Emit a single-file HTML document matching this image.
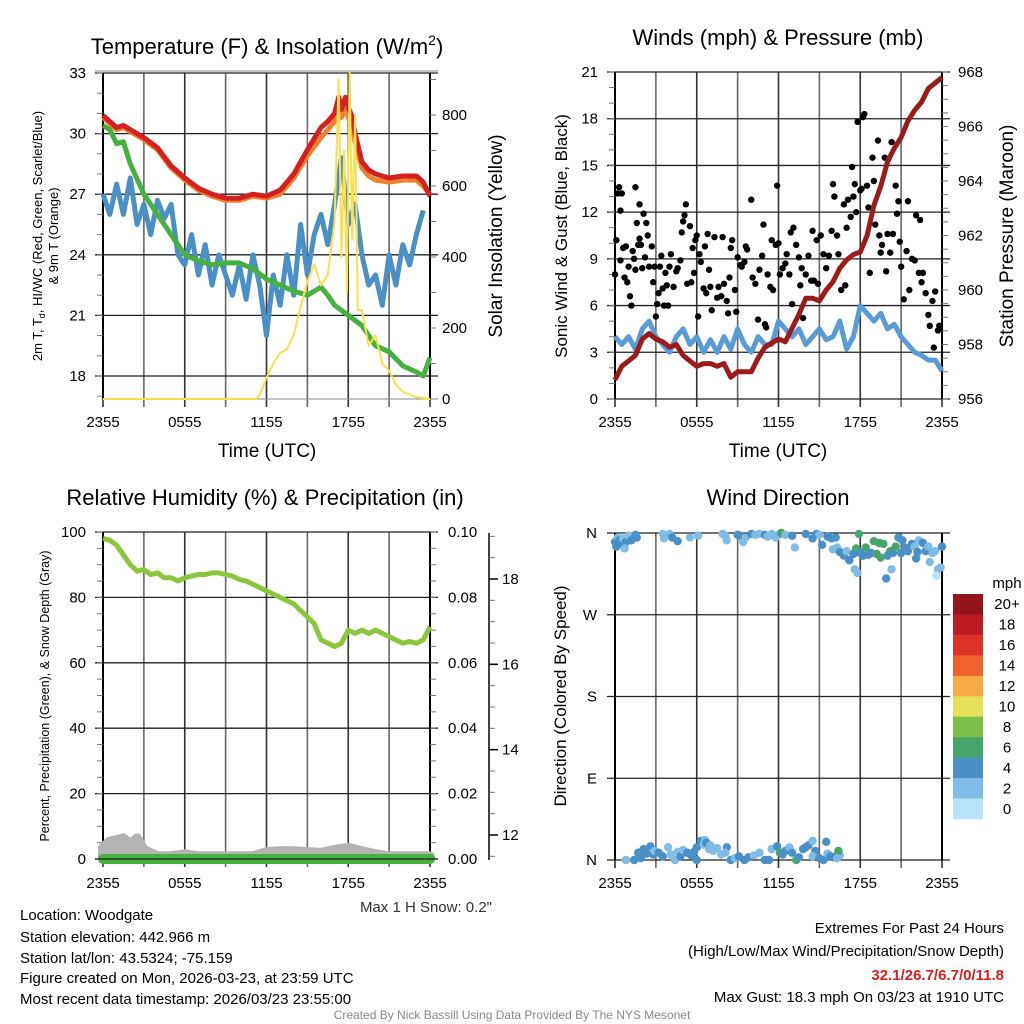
<!DOCTYPE html>
<html><head><meta charset="utf-8">
<style>
html,body{margin:0;padding:0;background:#fff;}
svg{display:block;font-family:"Liberation Sans",sans-serif;}
</style></head>
<body>
<svg id="fig" width="1024" height="1024" viewBox="0 0 1024 1024" xmlns="http://www.w3.org/2000/svg">
<rect x="0" y="0" width="1024" height="1024" fill="#fff"/>
<g id="layer"></g>
<!-- Titles -->
<text x="267" y="54" font-size="22" text-anchor="middle">Temperature (F) &amp; Insolation (W/m<tspan font-size="14" dy="-9">2</tspan><tspan dy="9">)</tspan></text>
<text x="778" y="45" font-size="22" text-anchor="middle">Winds (mph) &amp; Pressure (mb)</text>
<text x="265" y="505" font-size="22" text-anchor="middle">Relative Humidity (%) &amp; Precipitation (in)</text>
<text x="778" y="505" font-size="22" text-anchor="middle">Wind Direction</text>
<!-- Axis titles -->
<text x="267" y="457" font-size="19" text-anchor="middle">Time (UTC)</text>
<text x="778" y="457" font-size="19" text-anchor="middle">Time (UTC)</text>
<g font-size="13" text-anchor="middle">
<text transform="translate(42,236) rotate(-90)">2m T, T<tspan font-size="9" dy="3">d</tspan><tspan dy="-3">, HI/WC (Red, Green, Scarlet/Blue)</tspan></text>
<text transform="translate(58,236) rotate(-90)">&amp; 9m T (Orange)</text>
</g>
<text transform="translate(502,236) rotate(-90)" font-size="19" text-anchor="middle">Solar Insolation (Yellow)</text>
<text transform="translate(567,236) rotate(-90)" font-size="17" text-anchor="middle">Sonic Wind &amp; Gust (Blue, Black)</text>
<text transform="translate(1013,236) rotate(-90)" font-size="19" text-anchor="middle">Station Pressure (Maroon)</text>
<text transform="translate(49,696) rotate(-90)" font-size="12.5" text-anchor="middle">Percent, Precipitation (Green), &amp; Snow Depth (Gray)</text>
<text transform="translate(566,696) rotate(-90)" font-size="17" text-anchor="middle">Direction (Colored By Speed)</text>
<text x="492" y="912" font-size="15" fill="#333" text-anchor="end">Max 1 H Snow: 0.2"</text>
<!-- Info block -->
<g font-size="15">
<text x="20" y="920">Location: Woodgate</text>
<text x="20" y="942">Station elevation: 442.966 m</text>
<text x="20" y="963">Station lat/lon: 43.5324; -75.159</text>
<text x="20" y="983">Figure created on Mon, 2026-03-23, at 23:59 UTC</text>
<text x="20" y="1004">Most recent data timestamp: 2026/03/23 23:55:00</text>
</g>
<g font-size="15" text-anchor="end">
<text x="1004" y="933">Extremes For Past 24 Hours</text>
<text x="1004" y="956">(High/Low/Max Wind/Precipitation/Snow Depth)</text>
<text x="1004" y="980" fill="#d42020" font-weight="bold">32.1/26.7/6.7/0/11.8</text>
<text x="1004" y="1002">Max Gust: 18.3 mph On 03/23 at 1910 UTC</text>
</g>
<text x="512" y="1019" font-size="12" fill="#888" text-anchor="middle">Created By Nick Bassill Using Data Provided By The NYS Mesonet</text>
</svg>
<script>
// ---------- DATA ----------
var timeTicks = ["2355","0555","1155","1755","2355"];
var tempTicks = [18,21,24,27,30,33];
var solarTicks = [0,200,400,600,800];
var windTicks = [0,3,6,9,12,15,18,21];
var presTicks = [956,958,960,962,964,966,968];
var rhTicks = [0,20,40,60,80,100];
var precipTicks = ["0.00","0.02","0.04","0.06","0.08","0.10"];
var snowTicks = [12,14,16,18];
var dirLabels = ["N","E","S","W","N"];
var cbLabels = ["20+","18","16","14","12","10","8","6","4","2","0"];
var cbColors = ["#931419","#bd1c25","#dc3228","#f0622c","#f7aa45","#e6e05a","#7cc04a","#47a56c","#4a8fc6","#80bce6","#b8e3f8"];

var tempT = [0,0.5,1,1.5,2,3,4,5,6,7,8,9,10,11,12,13,14,15,16,16.5,17,17.3,17.5,17.8,18,18.3,18.5,19,19.5,20,21,22,23,23.5,24];
var tempRed = [30.9,30.6,30.3,30.4,30.2,29.8,29.3,28.4,27.8,27.3,27.0,26.8,26.8,27.0,26.9,27.2,28.0,29.2,30.3,30.6,31.0,31.8,31.2,31.8,31.3,30.8,30.0,28.6,28.2,28.0,27.8,27.9,27.9,27.6,26.9];
var tempOrange = [30.8,30.5,30.2,30.3,30.1,29.7,29.2,28.3,27.7,27.2,26.9,26.7,26.7,26.9,26.8,27.0,27.8,28.9,29.8,30.2,30.6,31.2,30.8,31.2,30.8,30.3,29.6,28.3,27.9,27.7,27.6,27.7,27.7,27.4,27.0];
var dewT = [0,0.5,1,1.5,2,3,4,5,6,7,8,9,10,11,12,13,14,15,16,16.5,17,18,19,20,21,22,23,23.5,24];
var dewGreen = [30.4,30.2,29.5,29.6,28.5,27.0,26.0,25.0,24.0,23.7,23.5,23.6,23.6,23.3,22.8,22.5,22.2,22.0,22.4,22.0,21.5,21.0,20.5,19.5,19.2,18.5,18.2,18.0,18.9];
var wcT = [0,0.5,1,1.5,2,2.5,3,3.5,4,4.5,5,5.5,6,6.5,7,7.5,8,8.5,9,9.5,10,10.5,11,11.5,12,12.5,13,13.5,14,14.5,15,15.5,16,16.5,17,17.5,18,18.5,19,19.5,20,20.5,21,21.5,22,22.5,23,23.5];
var wcBlue = [27,26,27.5,26,27.8,25.5,26.5,25,26.7,25.8,26.5,24,23.5,25,23,24.5,22.5,24,23,22,23.5,21.8,24,22.5,20,23,21.5,24,22,25.5,23,25,26,24.5,26.5,28.8,25.5,26.5,24,22.5,23,21.5,24,22.5,24.5,23.5,25,26.2];
var solarT = [0,11.3,11.6,12,12.5,13,13.5,14,14.5,15,15.5,16,16.5,17,17.3,17.5,17.7,17.9,18.1,18.3,18.5,18.7,19,19.5,20,20.5,21,21.5,22,23,24];
var solarW = [0,0,20,60,100,130,140,180,260,330,380,320,350,500,900,400,700,300,920,450,800,250,250,150,180,100,80,40,20,5,0];

var windT = [0,0.5,1,1.5,2,2.5,3,3.5,4,4.5,5,5.5,6,6.5,7,7.5,8,8.5,9,9.5,10,10.5,11,11.5,12,12.5,13,13.5,14,14.5,15,15.5,16,16.5,17,17.5,18,18.5,19,19.5,20,20.5,21,21.5,22,22.5,23,23.5,24];
var windSpd = [4,3.5,4,3.2,4.5,5,4,3.5,3,4,4.5,3.5,4,3,3.8,3,4,3.2,4.5,3.5,3,4,3.5,3.5,5,4.5,4,4.5,3.5,4,4.5,3.8,4,5,3.2,4,6,5.5,5,5.5,4.5,4.8,4,3.5,3,2.8,2.5,2.5,1.8];
var presT = [0,0.5,1,1.5,2,2.5,3,3.5,4,4.5,5,5.5,6,6.5,7,7.5,8,8.5,9,10,10.5,11,12,12.5,13,13.5,14,14.5,15,15.5,16,16.5,17,17.5,18,18.5,19,19.5,20,20.5,21,21.5,22,22.5,23,24];
var presMb = [956.7,957.2,957.4,957.6,958.2,958.4,958.2,958.1,957.9,958,957.6,957.4,957.2,957.3,957.3,957.2,957.3,956.8,957,957,957.5,957.9,958.2,958.1,958.6,959.1,959.7,959.7,959.6,960,960.3,960.8,961.1,961.3,961.4,962,963.1,963.8,964.7,965.2,965.6,966.2,966.6,966.9,967.4,967.8];
var gustT = [0,0.1,0.2,0.3,0.4,0.4,0.5,0.6,0.7,0.8,0.9,1.0,1.1,1.2,1.3,1.4,1.5,1.5,1.6,1.7,1.8,1.8,1.9,2.0,2.1,2.2,2.3,2.4,2.5,2.7,2.8,2.9,3.0,3.1,3.2,3.3,3.4,3.5,3.6,3.7,3.8,3.9,4.0,4.1,4.3,4.5,4.6,4.8,4.9,5.0,5.1,5.2,5.3,5.5,5.6,5.7,5.8,5.9,6.0,6.1,6.2,6.3,6.5,6.6,6.7,6.8,6.9,7.0,7.1,7.3,7.5,7.6,7.8,7.9,8.0,8.2,8.3,8.4,8.5,8.6,8.8,8.9,9.0,9.2,9.3,9.5,9.6,9.7,10.0,10.1,10.3,10.5,10.6,10.8,10.9,11.0,11.1,11.2,11.4,11.5,11.6,11.8,11.9,12.0,12.1,12.3,12.5,12.6,12.8,12.9,13.0,13.1,13.3,13.5,13.6,13.7,13.8,14.0,14.2,14.4,14.5,14.6,14.8,14.9,15.1,15.3,15.5,15.7,15.9,16.0,16.1,16.3,16.4,16.6,16.8,16.9,17.0,17.1,17.3,17.4,17.5,17.6,17.7,17.8,18.0,18.1,18.2,18.3,18.5,18.6,18.7,18.9,19.0,19.1,19.3,19.4,19.5,19.6,19.8,19.9,20.0,20.2,20.3,20.4,20.6,20.7,20.8,20.9,21.0,21.2,21.4,21.5,21.6,21.8,22.0,22.1,22.3,22.4,22.5,22.6,22.8,23.0,23.1,23.3,23.4,23.5,23.7,23.8];
var gustMph = [8,10.2,13.2,13.6,12.1,8.9,13.2,9.7,7.8,9.8,7.5,8.5,6.6,6.0,9.5,9.0,8.3,13.6,11.3,9.9,10.3,12.5,9.9,8.4,11.9,9.1,11.3,10.5,8.5,9.8,7.5,8.5,5.3,6.1,6.8,8.5,9.2,7.1,6.0,8.1,7.3,6.0,8.5,9.3,7.2,8.2,8.4,8.9,10.7,11.4,11.8,12.5,7.4,11.1,7.5,9.7,8.1,10.2,10.5,5.3,9.3,8.8,7.1,9.8,6.8,10.6,8.3,7.2,5.7,10.4,6.5,7.2,6.6,10.4,7.4,6.3,5.5,7.8,9.7,10.2,7.0,5.6,9.1,8.6,8.5,8.8,9.8,9.6,12.8,7.8,7.4,5.1,8.3,9.2,11.2,4.8,4.6,8.0,7.2,10.2,7.0,9.9,13.7,10.0,8.0,8.4,8.7,9.3,8.0,10.7,6.1,11.0,9.9,9.1,7.3,8.4,5.2,8.0,9.2,7.6,10.8,7.6,10.2,7.4,10.5,9.3,8.4,9.2,10.8,13.8,13.0,10.5,9.3,7.0,12.5,7.3,11.0,12.8,11.7,14.9,13.0,13.8,12.0,17.8,13.4,13.5,18.1,18.3,13.7,12.3,8.1,15.5,14.0,11.2,16.6,10.5,9.4,9.9,15.5,8.2,10.6,9.4,16.5,10.6,13.7,11.9,12.7,10.1,8.5,6.4,9.5,12.7,7.0,9.0,8.9,11.8,8.1,11.5,7.5,8.1,6.8,5.4,4.7,6.3,3.3,6.9,4.4,4.7];

var rhT = [0,0.5,1,1.5,2,2.5,3,3.5,4,4.5,5,5.5,6,6.5,7,7.5,8,8.5,9,9.5,10,10.5,11,12,13,14,14.5,15,15.5,16,16.5,17,17.5,18,18.5,19,19.5,20,20.5,21,21.5,22,22.5,23,23.5,24];
var rhPct = [98,97.5,96,93,90,88,88.5,87,87.5,86,86,85,86,86.5,87,87,87.5,87.5,87,86.5,85.5,85,84,82,80,78,76,74,72,67,66,65,66,70,69,70,69,70,69,68,67,66,66.5,66,67,71];
var snowT = [0,0.5,1,1.5,2,2.5,3,4,5,6,7,8,9,10,11,12,13,14,15,16,17,18,19,20,21,22,23,24];
var snowIn = [11.7,11.85,11.88,11.92,11.78,11.92,11.65,11.5,11.5,11.55,11.5,11.5,11.5,11.5,11.5,11.6,11.62,11.62,11.6,11.58,11.65,11.7,11.62,11.55,11.5,11.5,11.5,11.5];
var precipIn = [0,0,0,0,0,0,0,0,0,0,0,0,0,0,0,0,0,0,0,0,0,0,0,0,0,0,0,0];

var dirT = [0,0.1,0.2,0.3,0.4,0.6,0.8,1.0,1.2,1.5,1.6,0.7,3.5,4.0,3.6,4.2,4.6,5.5,6.1,7.9,8.1,8.2,9.0,9.2,9.4,9.6,10.0,10.3,10.6,11.0,11.2,11.3,11.5,11.8,12.0,12.2,12.5,13.0,13.2,14.0,14.5,14.8,15.0,15.2,15.6,15.9,16.2,16.0,16.3,16.5,16.8,17.0,17.2,17.5,17.6,17.8,17.9,17.7,18.0,18.2,18.4,18.6,18.8,19.0,19.2,19.4,19.5,19.7,19.9,20.0,20.2,20.4,20.6,20.3,20.8,21.0,21.1,21.3,21.5,21.8,22.0,22.2,22.3,22.6,22.8,23.0,23.1,23.3,23.5,23.7,23.9,23.6,24.0,22.1,
0.8,1.4,1.9,1.7,2.0,2.1,2.3,2.6,2.8,2.9,3.2,3.5,3.9,4.1,4.4,4.6,4.8,5.0,5.3,5.6,5.8,6.0,6.0,6.3,6.5,6.6,6.7,6.9,7.0,7.2,7.5,7.8,8.2,8.1,8.5,8.8,9.1,9.5,9.8,10.2,10.6,11.0,11.3,11.5,11.9,12.1,12.3,12.5,12.8,13.0,13.3,13.5,13.8,14.0,14.2,14.5,14.7,14.5,15.0,15.3,15.5,15.6,15.8,16.0,16.2,16.5,16.4,16.3];
var dirDeg = [350,345,355,352,348,354,350,357,352,358,355,343,359,359,354,355,351,355,357,359,357,352,358,357,350,355,359,358,359,358,356,357,359,355,358,360,358,357,344,359,354,359,358,347,356,354,355,342,344,339,335,340,330,337,320,316,359,343,338,335,344,336,338,351,337,349,333,348,310,335,340,338,345,320,355,338,352,344,340,348,345,339,352,349,340,345,328,338,340,320,322,313,345,332,
0,0,2,8,8,12,7,15,6,10,8,4,14,6,0,9,4,11,8,5,9,0,14,21,17,22,19,12,16,10,13,6,14,8,0,2,4,0,3,5,8,0,0,12,15,8,6,10,14,8,0,3,12,14,16,21,10,4,2,0,20,7,4,3,4,5,10,2];
var dirSpd = [3,3,2,3,3,2,3,2,3,3,3,2,2,2,2,3,3,2,2,2,2,2,3,3,2,2,3,2,2,3,2,2,2,2,2,7,2,3,2,3,3,3,2,3,3,3,3,2,2,3,3,2,3,3,2,2,7,7,3,3,7,3,3,7,7,7,7,7,3,3,7,3,7,2,3,3,3,3,3,3,2,3,2,3,3,2,2,2,2,2,2,1,3,3,
2,3,3,3,3,3,3,3,3,2,3,3,2,2,2,2,3,2,3,3,3,3,3,3,2,2,3,2,2,2,2,2,3,2,3,2,3,3,3,2,2,3,3,2,3,7,3,3,2,3,7,3,3,3,3,2,3,2,3,3,3,2,3,3,3,2,7,2];

// ---------- HELPERS ----------
var NS = "http://www.w3.org/2000/svg";
var layer = document.getElementById("layer");
function mk(tag, attrs, parent){
  var e = document.createElementNS(NS, tag);
  for (var k in attrs) e.setAttribute(k, attrs[k]);
  (parent||layer).appendChild(e);
  return e;
}
function lin(d0,d1,r0,r1){ return function(v){ return r0 + (v-d0)*(r1-r0)/(d1-d0); }; }
function pathD(xs, ys, fx, fy){
  var s="";
  for (var i=0;i<xs.length;i++) s += (i?"L":"M") + fx(xs[i]).toFixed(1) + "," + fy(ys[i]).toFixed(1);
  return s;
}
var L=103, R=430, L2=615, R2=942;
var xL = lin(0,24,L,R), xR = lin(0,24,L2,R2);

function grid(x0,x1,y0,y1,yVals,fy,name){
  var g = mk("g",{});
  
  
  for (var h=0; h<=24; h+=3){
    var x = x0 + h*(x1-x0)/24;
    mk("line",{x1:x,x2:x,y1:y0,y2:y1+8,stroke:(h%6==0?"#333":"#666"),"stroke-width":1.6},g);
  }
  for (var i=0;i<yVals.length;i++){
    var y = fy(yVals[i]);
    mk("line",{x1:x0-8,x2:x1+8,y1:y,y2:y,stroke:"#222","stroke-width":1.3},g);
  }
  mk("line",{x1:x0,x2:x0,y1:y0,y2:y1,stroke:"#000","stroke-width":2},g);
  mk("line",{x1:x1,x2:x1,y1:y0,y2:y1,stroke:"#000","stroke-width":2},g);
  return g;
}
function xLabels(x0,x1,y,name){
  var g = mk("g",{"font-size":15,"text-anchor":"middle"});
  
  
  for (var i=0;i<timeTicks.length;i++){
    var t = mk("text",{x:x0+i*(x1-x0)/4,y:y},g); t.textContent=timeTicks[i];
  }
}
function yLabels(vals,fy,x,anchor,name,fmt){
  var g = mk("g",{"font-size":15,"text-anchor":anchor});
  
  
  for (var i=0;i<vals.length;i++){
    var t = mk("text",{x:x,y:fy(vals[i])+5},g); t.textContent = fmt?fmt(vals[i],i):vals[i];
  }
}
function minorTicks(x, fy, from, to, step, dir, name){
  var g = mk("g",{stroke:"#777","stroke-width":1});
  
  
  for (var v=from; v<=to+1e-9; v+=step){
    mk("line",{x1:x,x2:x+dir*6,y1:fy(v),y2:fy(v)},g);
  }
}

// ---------- PANEL 1: temperature ----------
var yT = lin(18,33,376,73), yS = lin(0,800,399,115);
grid(L,R,73,399,tempTicks,yT,"temp-grid");
mk("line",{x1:L-8,x2:R+8,y1:71,y2:71,stroke:"#888","stroke-width":1});
minorTicks(L,yT,17,33,1,-1,"temp-minor-ticks");
minorTicks(R,yS,0,900,100,1,"solar-minor-ticks");
mk("line",{x1:L,x2:R+8,y1:399,y2:399,stroke:"#888","stroke-width":1});
var p;
p = mk("path",{d:pathD(wcT,wcBlue,xL,yT),fill:"none",stroke:"#4a8fc6","stroke-width":5,"stroke-linejoin":"round"});


p = mk("path",{d:pathD(dewT,dewGreen,xL,yT),fill:"none",stroke:"#46b040","stroke-width":5,"stroke-linejoin":"round"});


p = mk("path",{d:pathD(tempT,tempOrange,xL,yT),fill:"none",stroke:"#f08030","stroke-width":5,"stroke-linejoin":"round"});


p = mk("path",{d:pathD(tempT,tempRed,xL,yT),fill:"none",stroke:"#d42020","stroke-width":5,"stroke-linejoin":"round"});


p = mk("path",{d:pathD(solarT,solarW,xL,yS),fill:"none",stroke:"#f9e050","stroke-width":2,"stroke-linejoin":"round"});


yLabels(tempTicks,yT,86,"end","temp-y-ticks");
yLabels(solarTicks,yS,442,"start","solar-y-ticks");
xLabels(L,R,427,"temp-x-ticks");

// ---------- PANEL 2: wind ----------
var yW = lin(0,21,399,72), yP = lin(956,968,399,72);
grid(L2,R2,72,399,windTicks,yW,"wind-grid");
minorTicks(L2,yW,0,21,1,-1,"wind-minor-ticks");
minorTicks(R2,yP,956,968,0.5,1,"pressure-minor-ticks");
p = mk("path",{d:pathD(windT,windSpd,xR,yW),fill:"none",stroke:"#5a9bd5","stroke-width":5,"stroke-linejoin":"round"});


var gg = mk("g",{fill:"#000"});


for (var i=0;i<gustT.length;i++){
  var c = mk("circle",{cx:xR(gustT[i]),cy:yW(gustMph[i]),r:3.2},gg);
  
  
}
p = mk("path",{d:pathD(presT,presMb,xR,yP),fill:"none",stroke:"#9b1a1a","stroke-width":5,"stroke-linejoin":"round"});


yLabels(windTicks,yW,598,"end","wind-y-ticks");
yLabels(presTicks,yP,958,"start","pressure-y-ticks");
xLabels(L2,R2,427,"wind-x-ticks");

// ---------- PANEL 3: RH ----------
var yH = lin(0,100,859,532), ySn = lin(12,18,835,579);
grid(L,R,532,859,rhTicks,yH,"rh-grid");
minorTicks(L,yH,0,100,5,-1,"rh-minor-ticks");
minorTicks(R,yH,0,100,5,1,"precip-minor-ticks");
mk("line",{x1:489,x2:489,y1:533,y2:860,stroke:"#000","stroke-width":1.5});
minorTicks(489,ySn,11.5,19,0.5,1,"snow-minor-ticks");
var sg = mk("g",{stroke:"#000","stroke-width":1.5});
for (var i=0;i<snowTicks.length;i++) mk("line",{x1:489,x2:498,y1:ySn(snowTicks[i]),y2:ySn(snowTicks[i])},sg);
p = mk("path",{d:pathD(snowT,snowIn,xL,ySn)+"L"+xL(24)+",859L"+xL(0)+",859Z",fill:"#b3b3b3",stroke:"#b3b3b3","stroke-width":10,"stroke-linejoin":"round"});


p = mk("path",{d:pathD(snowT,precipIn,xL,lin(0,0.1,859,532)),fill:"none",stroke:"#46b040","stroke-width":10,"stroke-linecap":"round"});


mk("line",{x1:L-8,x2:R+8,y1:859,y2:859,stroke:"#222","stroke-width":1.3});
p = mk("path",{d:pathD(rhT,rhPct,xL,yH),fill:"none",stroke:"#8cc63f","stroke-width":5,"stroke-linejoin":"round"});


yLabels(rhTicks,yH,86,"end","rh-y-ticks");
yLabels(rhTicks,yH,448,"start","precip-y-ticks",function(v,i){return precipTicks[i];});
yLabels(snowTicks,ySn,502,"start","snow-y-ticks");
xLabels(L,R,888,"rh-x-ticks");

// ---------- PANEL 4: direction ----------
var yD = lin(0,360,860,533);
grid(L2,R2,533,860,[0,90,180,270,360],yD,"direction-grid");
var dg = mk("g",{});


var spdColor = {1:"#b8e3f8",2:"#80bce6",3:"#4a8fc6",7:"#47a56c"};
for (var i=0;i<dirT.length;i++){
  var c = mk("circle",{cx:xR(dirT[i]),cy:yD(dirDeg[i]),r:4.2,fill:spdColor[dirSpd[i]]},dg);
  
  
}
yLabels([0,90,180,270,360],yD,597,"end","direction-y-ticks",function(v,i){return dirLabels[i];});
xLabels(L2,R2,888,"direction-x-ticks");

// colorbar
var cb = mk("g",{});


var t0 = mk("text",{x:1007,y:588,"font-size":15,"text-anchor":"middle"},cb); t0.textContent="mph";
var bh = 225/cbColors.length;
for (var i=0;i<cbColors.length;i++){
  var r = mk("rect",{x:953,y:594+i*bh,width:30,height:bh+0.3,fill:cbColors[i]},cb);
  
  
  var tt = mk("text",{x:1007,y:594+i*bh+bh/2+5,"font-size":15,"text-anchor":"middle"},cb);
  tt.textContent = cbLabels[i];
}
</script>
</body></html>
